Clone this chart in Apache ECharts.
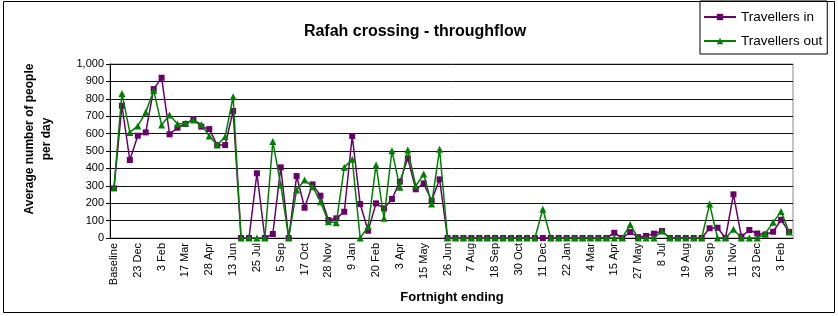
<!DOCTYPE html>
<html>
<head>
<meta charset="utf-8">
<script src="https://cdn.jsdelivr.net/npm/echarts@6/dist/echarts.min.js"></script>
<style>html,body{margin:0;padding:0;background:#fff}#c{width:838px;height:316px}</style>
</head>
<body>
<div id="c"></div>
<script>
const tickLabels = ['Baseline','23 Dec','3 Feb','17 Mar','28 Apr','13 Jun','25 Jul','5 Sep','17 Oct','28 Nov','9 Jan','20 Feb','3 Apr','15 May','26 Jun','7 Aug','18 Sep','30 Oct','11 Dec','22 Jan','4 Mar','15 Apr','27 May','8 Jul','19 Aug','30 Sep','11 Nov','23 Dec','3 Feb'];
const travellersIn = [285,760,448,588,607,856,921,596,634,655,684,640,626,534,534,730,0,0,372,0,23,406,0,356,174,308,243,103,113,151,586,195,42,199,170,224,324,458,280,314,215,337,0,0,0,0,0,0,0,0,0,0,0,0,0,0,0,0,0,0,0,0,0,30,0,34,5,12,25,40,0,0,0,0,0,56,59,0,251,8,46,26,20,36,105,35];
const travellersOut = [290,831,607,644,722,847,649,707,655,659,678,653,586,534,582,812,0,0,0,0,554,305,0,276,333,295,209,94,88,406,452,0,65,420,113,502,291,506,299,368,195,510,0,0,0,0,0,0,0,0,0,0,0,0,165,0,0,0,0,0,0,0,0,0,0,77,0,0,0,40,0,0,0,0,0,195,0,0,50,0,0,0,25,90,153,35];
const yTicks = {min: 0, max: 1000, step: 100};

const categories = travellersIn.map((v, i) => i % 3 === 0 ? tickLabels[i / 3] : 'f' + i);

const chart = echarts.init(document.getElementById('c'), null, {renderer: 'canvas'});
const font = 'Liberation Sans, Arial, sans-serif';
chart.setOption({
  animation: false,
  textStyle: {fontFamily: font},
  legend: {
    orient: 'vertical', left: 700, top: 1,
    padding: [9, 5, 6, 3], itemGap: 10,
    borderColor: '#000', borderWidth: 1,
    itemWidth: 32, itemHeight: 8,
    textStyle: {fontSize: 13.5, color: '#000', fontFamily: font},
    data: ['Travellers in', 'Travellers out']
  },
  grid: {left: 110, right: 45, top: 64, bottom: 78, show: true, borderColor: '#888', borderWidth: 1},
  xAxis: {
    type: 'category', data: categories, boundaryGap: true,
    axisLine: {lineStyle: {color: '#000', width: 1}},
    axisTick: {interval: 0, length: 4, lineStyle: {color: '#000'}},
    axisLabel: {interval: 2, rotate: 90, fontSize: 11, color: '#000', margin: 5, fontFamily: font},
    splitLine: {show: false}
  },
  yAxis: {
    type: 'value', min: yTicks.min, max: yTicks.max, interval: yTicks.step,
    axisLine: {show: true, lineStyle: {color: '#000', width: 1}},
    axisTick: {show: true, length: 4, lineStyle: {color: '#000'}},
    axisLabel: {fontSize: 11, color: '#000', margin: 6, fontFamily: font,
      formatter: v => v.toLocaleString('en-US')},
    splitLine: {show: true, lineStyle: {color: '#111', width: 1}}
  },
  graphic: [
    {type: 'rect', shape: {x: 3.5, y: 1.5, width: 831, height: 311}, style: {fill: null, stroke: '#000', lineWidth: 1}, z: -1},
    {type: 'text', x: 415, y: 32,
      style: {text: 'Rafah crossing - throughflow', font: 'bold 16px ' + font, fill: '#000', textAlign: 'center', textVerticalAlign: 'middle'}},
    {type: 'text', x: 38, y: 139, rotation: Math.PI / 2,
      style: {text: 'Average number of people\nper day', font: 'bold 12px ' + font, fill: '#000', textAlign: 'center', textVerticalAlign: 'middle', lineHeight: 17}},
    {type: 'text', x: 452, y: 297,
      style: {text: 'Fortnight ending', font: 'bold 13px ' + font, fill: '#000', textAlign: 'center', textVerticalAlign: 'middle'}}
  ],
  series: [
    {name: 'Travellers in', type: 'line', data: travellersIn,
      symbol: 'rect', symbolSize: 6, showAllSymbol: true,
      itemStyle: {color: '#6a006a'}, lineStyle: {color: '#6a006a', width: 1.5}, z: 2},
    {name: 'Travellers out', type: 'line', data: travellersOut,
      symbol: 'triangle', symbolSize: 7, showAllSymbol: true,
      itemStyle: {color: '#008000'}, lineStyle: {color: '#008000', width: 1.5}, z: 3}
  ]
});
</script>
</body>
</html>
